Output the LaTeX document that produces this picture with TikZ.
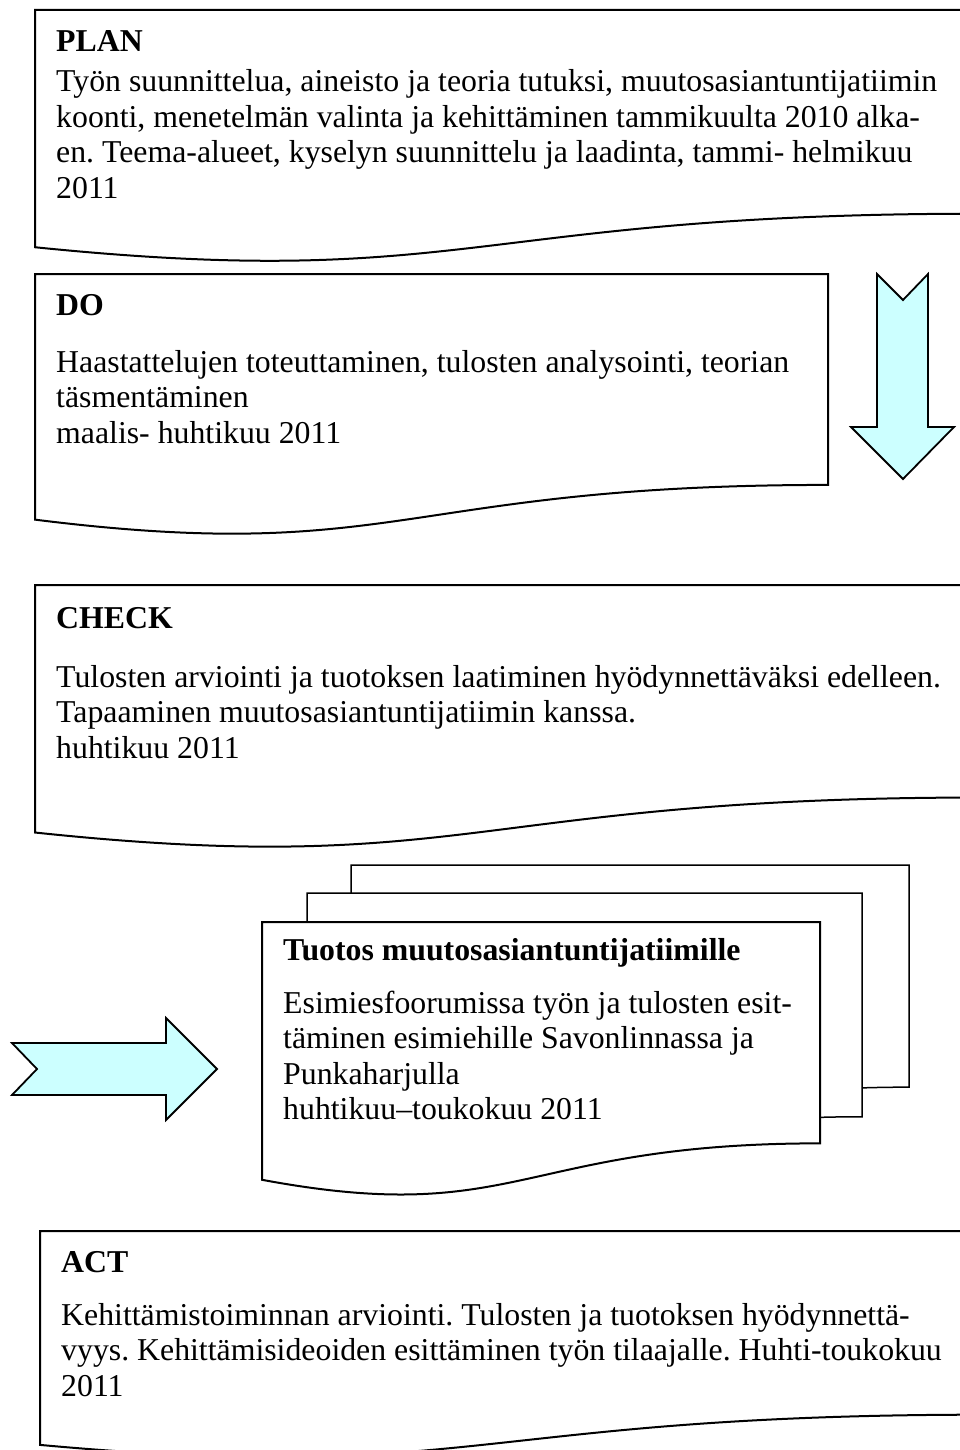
\documentclass[tikz,border=0pt]{standalone}
\usepackage{fontspec}
\setmainfont{Liberation Serif}
\definecolor{arrowcyan}{HTML}{CCFFFF}
\tikzset{
  page/.style={draw=black, line width=2pt, fill=white, line join=miter},
  backpage/.style={page, line width=1.5pt},
  flow/.style={draw=black, line width=1.8pt, fill=arrowcyan, line join=miter},
  label/.style={anchor=base west, inner sep=0pt, font=\fontsize{31.8}{35.5}\selectfont},
}
% document page with a wavy lower edge: [style]{x}{y}{width}{height}
\newcommand{\DocPage}[5][]{%
  \path[page,#1] (#2,#3) -- ({#2+#4},#3) -- ({#2+#4},{#3+0.802*#5})
    .. controls ({#2+0.46*#4},{#3+0.802*#5}) and ({#2+0.46*#4},{#3+1.1075*#5}) .. (#2,{#3+0.934*#5}) -- cycle;}
\frenchspacing

\begin{document}
\begin{tikzpicture}[x=1pt,y=-1pt]
\useasboundingbox (0,0) rectangle (960,1450);
\clip (0,0) rectangle (960,1450);
\fill[white] (0,0) rectangle (960,1450);

% PLAN
\DocPage{35}{10}{945}{254}
\node[label] (plan) at (56,52) {\begin{tabular}[t]{@{}l@{}}\textbf{PLAN}\\[4.5pt]
Työn suunnittelua, aineisto ja teoria tutuksi, muutosasiantuntijatiimin\\
koonti, menetelmän valinta ja kehittäminen tammikuulta 2010 alka-\\
en. Teema-alueet, kyselyn suunnittelu ja laadinta, tammi- helmikuu\\
2011\end{tabular}};

% DO
\DocPage{35}{274}{793}{263}
\node[label] (do) at (56,315) {\begin{tabular}[t]{@{}l@{}}\textbf{DO}\\[21.5pt]
Haastattelujen toteuttaminen, tulosten analysointi, teorian\\
täsmentäminen\\
maalis- huhtikuu 2011\end{tabular}};

% downward arrow
\path[flow] (877,274) -- (903,300) -- (928,274) -- (928,427) -- (954,427)
  -- (903,479) -- (851,427) -- (877,427) -- cycle;

% CHECK
\DocPage{35}{585}{945}{265}
\node[label] (check) at (56,628) {\begin{tabular}[t]{@{}l@{}}\textbf{CHECK}\\[23.5pt]
Tulosten arviointi ja tuotoksen laatiminen hyödynnettäväksi edelleen.\\
Tapaaminen muutosasiantuntijatiimin kanssa.\\
huhtikuu 2011\end{tabular}};

% stack of output documents
\DocPage[backpage]{351}{865}{558}{277}
\DocPage[backpage]{307}{893}{555}{279}
\DocPage{262}{922}{558}{276}
\node[label] (tuotos) at (283,960) {\begin{tabular}[t]{@{}l@{}}\textbf{Tuotos muutosasiantuntijatiimille}\\[17.5pt]
Esimiesfoorumissa työn ja tulosten esit-\\
täminen esimiehille Savonlinnassa ja\\
Punkaharjulla\\
huhtikuu–toukokuu 2011\end{tabular}};

% rightward arrow
\path[flow] (12,1043) -- (166,1043) -- (166,1018) -- (217,1069) -- (166,1120)
  -- (166,1095) -- (12,1095) -- (37,1069) -- cycle;

% ACT
\DocPage{40}{1231}{945}{229}
\node[label] (act) at (61,1272) {\begin{tabular}[t]{@{}l@{}}\textbf{ACT}\\[17.5pt]
Kehittämistoiminnan arviointi. Tulosten ja tuotoksen hyödynnettä-\\
vyys. Kehittämisideoiden esittäminen työn tilaajalle. Huhti-toukokuu\\
2011\end{tabular}};
\end{tikzpicture}
\end{document}
